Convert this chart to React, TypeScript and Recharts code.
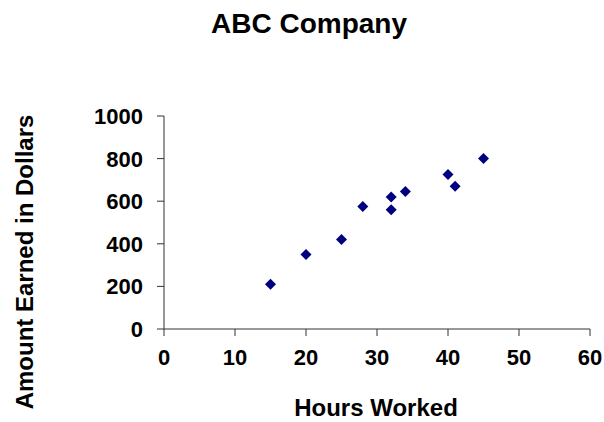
import { ScatterChart, Scatter, XAxis, YAxis, Label } from "recharts";

const hours = [15, 20, 25, 28, 32, 32, 34, 40, 41, 45];
const earned = [210, 350, 420, 575, 620, 560, 645, 725, 670, 800];
const xTicks = [0, 10, 20, 30, 40, 50, 60];
const yTicks = [0, 200, 400, 600, 800, 1000];

const FONT = '"Liberation Sans", Arial, sans-serif';
const AXIS = "#333333";

const data = hours.map((h, i) => ({ hours: h, earned: earned[i] }));

const Diamond = (props: any) => {
  const { cx, cy } = props;
  const r = 5.5;
  return (
    <path
      d={`M${cx},${cy - r} L${cx + r},${cy} L${cx},${cy + r} L${cx - r},${cy} Z`}
      fill="#000080"
    />
  );
};

const YTick = (props: any) => {
  const { y, payload } = props;
  return (
    <text x={143} y={y + 8} textAnchor="end" fontFamily={FONT} fontWeight="bold" fontSize={22} fill="#000">
      {payload.value}
    </text>
  );
};

const XTick = (props: any) => {
  const { x, payload } = props;
  return (
    <text x={x} y={365} textAnchor="middle" fontFamily={FONT} fontWeight="bold" fontSize={22} fill="#000">
      {payload.value}
    </text>
  );
};

export default function App() {
  return (
    <div style={{ position: "absolute", left: 0, top: 0, background: "#fff" }}>
      <ScatterChart
        width={604}
        height={422}
        margin={{ top: 116, right: 14, bottom: 0, left: 0 }}
      >
        <text x={309} y={33} textAnchor="middle" fontFamily={FONT} fontWeight="bold" fontSize={28} fill="#000">
          ABC Company
        </text>
        <XAxis
          type="number"
          dataKey="hours"
          domain={[0, 60]}
          ticks={xTicks}
          height={93}
          tickSize={7}
          stroke={AXIS}
          tick={<XTick />}
        >
          <Label
            content={() => (
              <text x={376} y={416} textAnchor="middle" fontFamily={FONT} fontWeight="bold" fontSize={24} fill="#000">
                Hours Worked
              </text>
            )}
          />
        </XAxis>
        <YAxis
          type="number"
          dataKey="earned"
          domain={[0, 1000]}
          ticks={yTicks}
          width={164}
          tickSize={7}
          stroke={AXIS}
          tick={<YTick />}
        >
          <Label
            content={() => (
              <text
                x={33}
                y={262}
                transform="rotate(-90 33 262)"
                textAnchor="middle"
                fontFamily={FONT}
                fontWeight="bold"
                fontSize={24}
                fill="#000"
              >
                Amount Earned in Dollars
              </text>
            )}
          />
        </YAxis>
        <Scatter data={data} shape={<Diamond />} isAnimationActive={false} />
      </ScatterChart>
    </div>
  );
}
